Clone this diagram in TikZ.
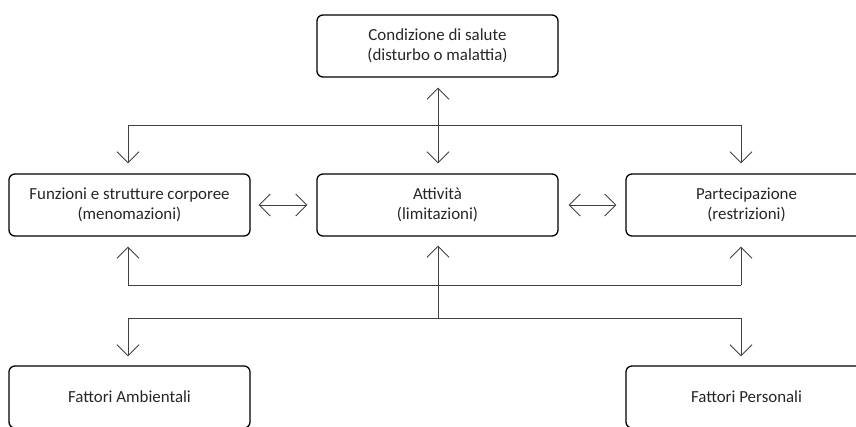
\documentclass[tikz,border=0pt]{standalone}
\usepackage{fontspec}
\setmainfont{Carlito}
\usetikzlibrary{arrows.meta}
\begin{document}
\begin{tikzpicture}[x=1pt,y=-1pt,
  box/.style={draw=black, line width=1.3pt, rounded corners=6pt,
    minimum width=241pt, minimum height=62pt, align=center,
    inner sep=0pt, font=\fontsize{16.9}{20.5}\selectfont, text=black!85},
  link/.style={draw=black!75, line width=0.9pt},
  tip/.style={link, -{Straight Barb[length=11pt,width=22pt,line width=0.9pt]}},
  both/.style={link, {Straight Barb[length=11pt,width=22pt,line width=0.9pt]}-{Straight Barb[length=11pt,width=22pt,line width=0.9pt]}}
]
\useasboundingbox (0,0) rectangle (856,426);
\clip (0,0) rectangle (856,426);

% boxes
\node[box] (salute) at (437.5,46) {Condizione di salute\\(disturbo o malattia)};
\node[box] (funz)   at (129.5,205) {Funzioni e strutture corporee\\(menomazioni)};
\node[box] (att)    at (437.5,205) {Attività\\(limitazioni)};
\node[box] (part)   at (746.5,205) {Partecipazione\\(restrizioni)};
\node[box] (amb)    at (129.5,397) {Fattori Ambientali};
\node[box] (pers)   at (746.5,397) {Fattori Personali};

% bus coordinates
\coordinate (t1) at (128,125);
\coordinate (t2) at (741,125);
\coordinate (m1) at (128,285);
\coordinate (m2) at (741,285);
\coordinate (b1) at (128,318);
\coordinate (b2) at (741,318);
\coordinate (bc) at (438,318);

% health condition <-> activity
\draw[both, shorten <=10pt, shorten >=10pt] (salute.south -| bc) -- (att.north -| bc);

% upper bus
\draw[link] (t1) -- (t2);
\draw[tip, shorten >=10pt] (t1) -- (t1 |- funz.north);
\draw[tip, shorten >=10pt] (t2) -- (t2 |- part.north);

% horizontal links in the middle row
\draw[both, shorten <=8pt, shorten >=9pt] (funz.east) -- (att.west);
\draw[both, shorten <=10pt, shorten >=9pt] (att.east) -- (part.west);

% lower bus towards the middle row
\draw[link] (m1) -- (m2);
\draw[tip, shorten >=10pt] (m1) -- (m1 |- funz.south);
\draw[tip, shorten >=10pt] (m2) -- (m2 |- part.south);
\draw[tip, shorten >=9pt] (bc) -- (bc |- att.south);

% bus towards the contextual factors
\draw[link] (b1) -- (b2);
\draw[tip, shorten >=9pt] (b1) -- (b1 |- amb.north);
\draw[tip, shorten >=9pt] (b2) -- (b2 |- pers.north);
\end{tikzpicture}
\end{document}
